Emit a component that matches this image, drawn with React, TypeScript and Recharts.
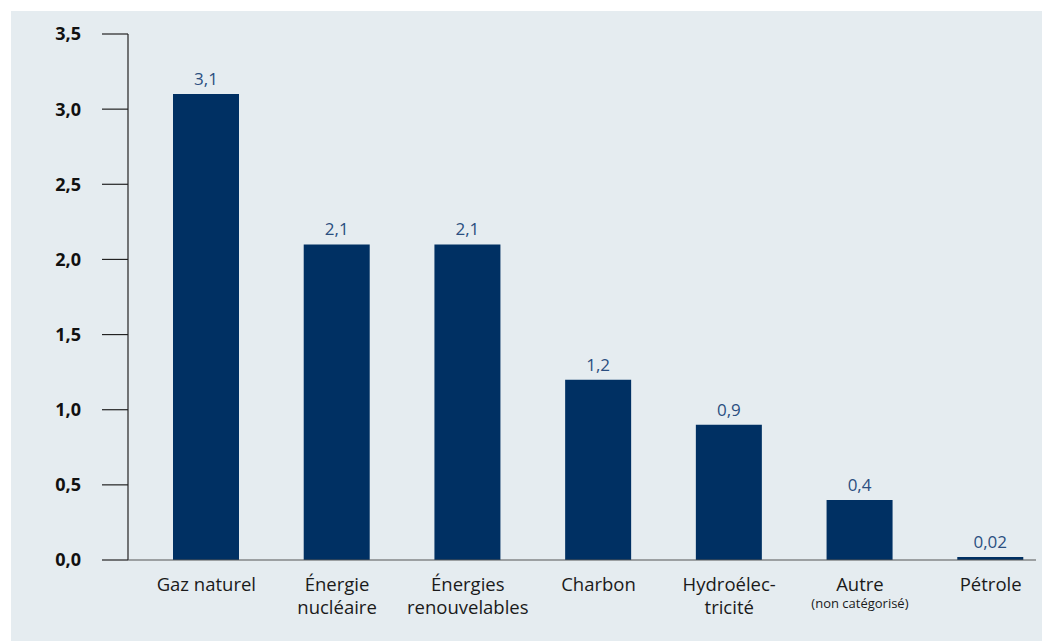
import React from 'react';
import {BarChart, Bar, XAxis, YAxis, LabelList} from 'recharts';

const categories = ['Gaz naturel', 'Énergie nucléaire', 'Énergies renouvelables', 'Charbon', 'Hydroélectricité', 'Autre', 'Pétrole'];
const values = [3.1, 2.1, 2.1, 1.2, 0.9, 0.4, 0.02];
const tickLines = [
    ['Gaz naturel'],
    ['Énergie', 'nucléaire'],
    ['Énergies', 'renouvelables'],
    ['Charbon'],
    ['Hydroélec-', 'tricité'],
    ['Autre'],
    ['Pétrole'],
];
const smallPrint = ['', '', '', '', '', '(non catégorisé)', ''];
const yTicks = [0, 0.5, 1, 1.5, 2, 2.5, 3, 3.5];

const data = categories.map((name, i) => ({name, value: values[i]}));

const FONT = '"Open Sans", sans-serif';
const fmt = (v: number) => String(v).replace('.', ',');

const CategoryTick = (props: any) => {
    const {x, y, index} = props;
    const lines = tickLines[index] || [];
    return (
        <g>
            {lines.map((line, i) => (
                <text key={i} x={x} y={y + 31 + i * 23} textAnchor="middle" fill="#1a1a1a"
                      fontSize={18.5} fontFamily={FONT}>{line}</text>
            ))}
            {smallPrint[index] ? (
                <text x={x} y={y + 48} textAnchor="middle" fill="#1a1a1a" fontSize={13}
                      fontFamily={FONT}>{smallPrint[index]}</text>
            ) : null}
        </g>
    );
};

const App = () => {
    return (
        <div style={{margin: '3px 0 0 3px', width: 1039, height: 630, background: '#e5ecf0'}}>
            <BarChart
                width={1039}
                height={630}
                data={data}
                margin={{top: 23, right: 14, left: 0, bottom: 0}}
                barSize={66}
            >
                <YAxis
                    domain={[0, 3.5]}
                    ticks={yTicks}
                    width={117}
                    tickSize={26}
                    tickMargin={21}
                    tickFormatter={(v: number) => v.toFixed(1).replace('.', ',')}
                    tick={{fill: '#111', fontSize: 18, fontWeight: 700, fontFamily: FONT}}
                    axisLine={{stroke: '#222', strokeWidth: 1.2}}
                    tickLine={{stroke: '#222', strokeWidth: 1.2}}
                />
                <XAxis
                    dataKey="name"
                    interval={0}
                    height={81}
                    padding={{left: 13, right: -20}}
                    tickLine={false}
                    tickSize={0}
                    tickMargin={0}
                    tick={<CategoryTick/>}
                    axisLine={{stroke: '#555', strokeWidth: 1.2}}
                />
                <Bar dataKey="value" fill="#003063" isAnimationActive={false}>
                    <LabelList dataKey="value" position="top" offset={9} formatter={(v: any) => fmt(v)}
                               fill="#2b4f80" fontSize={17} fontFamily={FONT}/>
                </Bar>
            </BarChart>
        </div>
    );
};

export default App;
